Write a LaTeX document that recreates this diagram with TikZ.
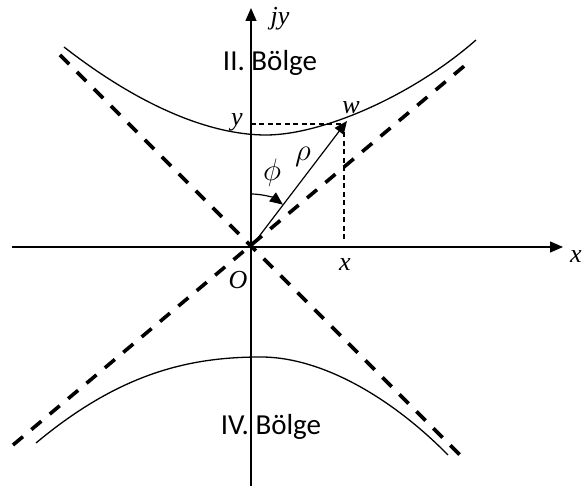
\RequirePackage{fix-cm}
\documentclass[tikz,border=0pt]{standalone}
\usepackage{fontspec}
\setmainfont{Liberation Serif}
\newfontfamily\regionfont{Carlito}
\usetikzlibrary{arrows.meta,positioning}
\tikzset{
  >=Latex,
  axis/.style={line width=1.3pt,-{Triangle[length=13pt,width=11pt]}},
  asym/.style={line width=3.6pt,dash pattern=on 13pt off 11pt},
  guide/.style={line width=1.2pt,dash pattern=on 5pt off 3.5pt},
  branch/.style={line width=1.3pt},
  vec/.style={line width=1.2pt,-{Triangle[length=13pt,width=11pt]}},
  mlabel/.style={font=\fontsize{26}{30}\selectfont\itshape,inner sep=0pt},
  glabel/.style={font=\fontsize{31}{34}\selectfont,inner sep=0pt},
  region/.style={font=\regionfont\fontsize{29}{34}\selectfont,inner sep=0pt}
}
\begin{document}
\begin{tikzpicture}[x=1pt,y=1pt]
\useasboundingbox (-251,-239) rectangle (333,247);
% points
\coordinate (O) at (0,0);
\coordinate (w) at (96,126);
\coordinate (xstart) at (-239,0);
\coordinate (xend) at (312,0);
\coordinate (ystart) at (0,-239);
\coordinate (yend) at (0,239);
\coordinate (yw) at (0,123);
\coordinate (wx) at (93,123);
\coordinate (xw) at (93,7);
% asymptotes
\coordinate (a1) at (-191,192);
\coordinate (a2) at (216,-215);
\coordinate (b1) at (-238,-198);
\coordinate (b2) at (218,185);
\draw[asym] (a1) -- (a2);
\draw[asym] (b1) -- (b2);
% branches
\draw[branch] (-187,200) .. controls (-110,140) and (-40,112) .. (15,112)
  .. controls (70,112) and (160,150) .. (225,207);
\draw[branch] (-215,-196) .. controls (-130,-125) and (-60,-110) .. (10,-110)
  .. controls (70,-110) and (140,-150) .. (197,-208);
% axes
\draw[axis] (xstart) -- (xend);
\draw[axis] (ystart) -- (yend);
% projections
\draw[guide] (yw) -- (wx);
\draw[guide] (wx) -- (xw);
% vector and angle
\draw[vec] (O) -- (w);
\draw[vec] (0,53) arc[start angle=90,end angle=53,radius=53];
% labels
\node[mlabel] (xlab) at (325,-10) {x};
\node[mlabel] (jylab) at (29,228) {jy};
\node[mlabel] (wlab) at (100,139) {w};
\node[mlabel] (ylab) at (-14,125) {y};
\node[mlabel] (xplab) at (94,-18) {x};
\node[mlabel] (Olab) at (-13,-33) {O};
\node[glabel] (rholab) at (52,90) {$\rho$};
\node[glabel] (philab) at (21,74) {$\phi$};
\node[region] (upper) at (19,184) {II. Bölge};
\node[region] (lower) at (20,-180) {IV. Bölge};
\end{tikzpicture}
\end{document}
